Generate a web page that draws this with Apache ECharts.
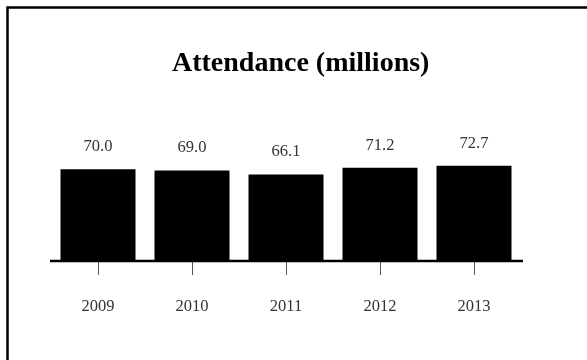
<!DOCTYPE html>
<html>
<head>
<meta charset="utf-8">
<style>
  html, body { margin: 0; padding: 0; background: #fff; }
  #chart { width: 587px; height: 360px; }
</style>
<script src="https://cdn.jsdelivr.net/npm/echarts@6/dist/echarts.min.js"></script>
</head>
<body>
<div id="chart"></div>
<script>
// Annual attendance, in millions
const years = ['2009', '2010', '2011', '2012', '2013'];
const attendance = [70.0, 69.0, 66.1, 71.2, 72.7];

const serif = "'Liberation Serif', 'Times New Roman', serif";

const chart = echarts.init(document.getElementById('chart'), null, { renderer: 'canvas' });

chart.setOption({
  backgroundColor: '#ffffff',
  animation: false,
  title: {
    text: 'Attendance (millions)',
    left: 172,
    top: 50,
    padding: 0,
    textStyle: {
      fontFamily: serif,
      fontWeight: 'bold',
      fontSize: 28,
      color: '#000'
    }
  },
  graphic: [{
    // page frame around the chart
    type: 'rect',
    silent: true,
    shape: { x: 7.5, y: 7.5, width: 700, height: 500 },
    style: { fill: 'none', stroke: '#000', lineWidth: 2.5 }
  }, {
    // axis baseline, a little longer than the category band
    type: 'line',
    silent: true,
    z: 5,
    shape: { x1: 50, y1: 261, x2: 523, y2: 261 },
    style: { stroke: '#000', lineWidth: 2.5 }
  }],
  grid: { left: 51, right: 66, top: 130, bottom: 99 },
  xAxis: {
    type: 'category',
    data: years,
    axisLine: { show: false },
    axisTick: { show: true, alignWithLabel: true, length: 14, lineStyle: { color: '#555', width: 1 } },
    axisLabel: {
      margin: 37,
      fontFamily: serif,
      fontSize: 16.5,
      color: '#333'
    },
    splitLine: { show: false }
  },
  yAxis: {
    type: 'value',
    min: 0,
    max: 100,
    show: false,
    splitLine: { show: false }
  },
  series: [{
    type: 'bar',
    data: attendance,
    barWidth: 75,
    itemStyle: { color: '#000' },
    label: {
      show: true,
      position: 'top',
      distance: 14,
      fontFamily: serif,
      fontSize: 16.5,
      color: '#333',
      formatter: p => p.value.toFixed(1)
    }
  }]
});
</script>
</body>
</html>
